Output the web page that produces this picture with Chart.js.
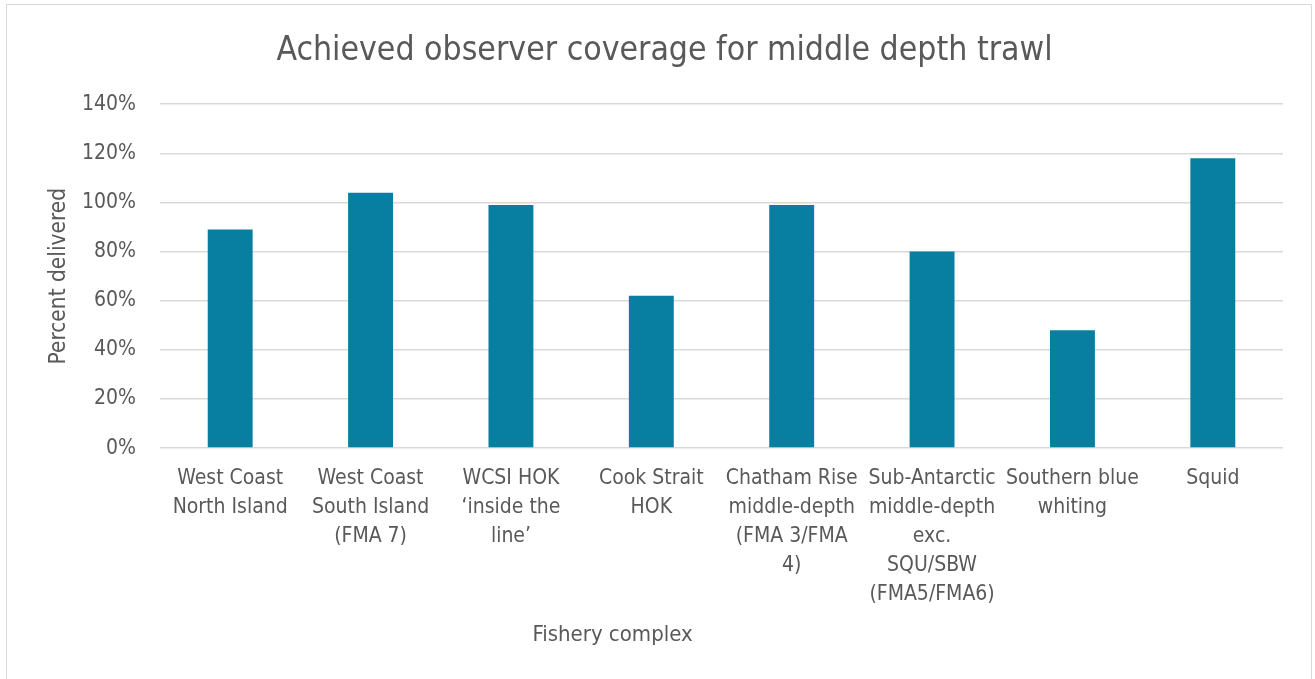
<!DOCTYPE html>
<html>
<head>
<meta charset="utf-8">
<script src="https://cdn.jsdelivr.net/npm/chart.js@4"></script>
<style>
  html, body { margin: 0; padding: 0; background: #fff; overflow: hidden; }
  #wrap { position: relative; width: 1315px; height: 679px; }
  #frame { position: absolute; left: 6px; top: 4px; width: 1304px; height: 700px; border: 1.5px solid #d9d9d9; pointer-events: none; }
</style>
</head>
<body>
<div id="wrap"><canvas id="chart"></canvas><div id="frame"></div></div>
<script>
// fishery complexes, wrapped the way the original does it
var categories = [
  ['West Coast', 'North Island'],
  ['West Coast', 'South Island', '(FMA 7)'],
  ['WCSI HOK', '\u2018inside the', 'line\u2019'],
  ['Cook Strait', 'HOK'],
  ['Chatham Rise', 'middle-depth', '(FMA 3/FMA', '4)'],
  ['Sub-Antarctic', 'middle-depth', 'exc.', 'SQU/SBW', '(FMA5/FMA6)'],
  ['Southern blue', 'whiting'],
  ['Squid']
];
var coverage = [89, 104, 99, 62, 99, 80, 48, 118];
var yTicks = [0, 20, 40, 60, 80, 100, 120, 140];

var font = "'Liberation Sans Narrow', 'DejaVu Sans Condensed', sans-serif";
var grey = '#595959';

// Excel left the x axis title off-centre, so draw it ourselves
var xTitlePlugin = {
  id: 'xTitle',
  afterDraw: function (chart) {
    var x = chart.scales.x;
    var c = chart.ctx;
    c.save();
    c.fillStyle = grey;
    c.font = '22px ' + font;
    c.textAlign = 'center';
    c.textBaseline = 'middle';
    c.fillText('Fishery complex', x.left + (x.right - x.left) * 0.403, x.bottom - 4);
    c.restore();
  }
};

var ctx = document.getElementById('chart').getContext('2d');
var chart = new Chart(ctx, {
  type: 'bar',
  data: {
    labels: categories,
    datasets: [{
      label: 'Percent delivered',
      data: coverage,
      backgroundColor: '#087ea1',
      borderWidth: 0,
      barPercentage: 0.32,
      categoryPercentage: 1
    }]
  },
  plugins: [xTitlePlugin],
  options: {
    responsive: true,
    maintainAspectRatio: false,
    animation: false,
    layout: { padding: { left: 46, right: 32, top: 31, bottom: 40 } },
    plugins: {
      legend: { display: false },
      tooltip: { enabled: false },
      title: {
        display: true,
        text: 'Achieved observer coverage for middle depth trawl',
        color: grey,
        font: { family: font, size: 33.5, weight: 'normal' },
        padding: { top: 0, bottom: 33 }
      }
    },
    scales: {
      x: {
        grid: { display: false },
        border: { display: false },
        ticks: {
          color: grey,
          maxRotation: 0,
          autoSkip: false,
          padding: 8,
          font: { family: font, size: 21, lineHeight: 1.38 }
        },
        title: {
          display: true,
          text: 'Fishery complex',
          color: 'rgba(0,0,0,0)',
          font: { family: font, size: 22, lineHeight: 1 },
          padding: { top: 0, bottom: 0 }
        }
      },
      y: {
        min: 0,
        max: 140,
        afterBuildTicks: function (axis) {
          axis.ticks = yTicks.map(function (v) { return { value: v }; });
        },
        afterFit: function (axis) {
          axis.width = 114;
        },
        grid: { color: '#d9d9d9', lineWidth: 1.5, drawTicks: false },
        border: { display: false },
        ticks: {
          color: grey,
          padding: 24,
          font: { family: font, size: 21 },
          callback: function (v) { return v + '%'; }
        },
        title: {
          display: true,
          text: 'Percent delivered',
          color: grey,
          font: { family: font, size: 22.5 },
          padding: { top: 0, bottom: 10 }
        }
      }
    }
  }
});
</script>
</body>
</html>
